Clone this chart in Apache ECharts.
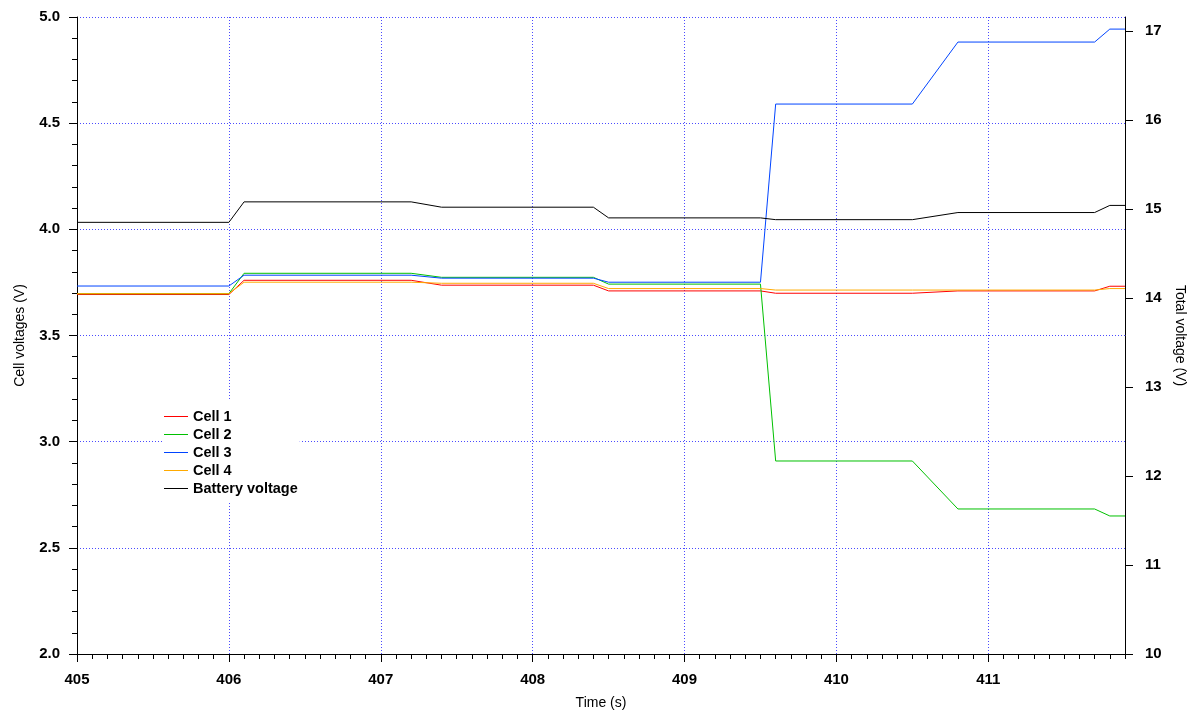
<!DOCTYPE html>
<html>
<head>
<meta charset="utf-8">
<script src="https://cdn.jsdelivr.net/npm/echarts@6/dist/echarts.min.js"></script>
<style>
    html, body { margin: 0; padding: 0; background: #fff; }
    #chart { width: 1194px; height: 711px; }
</style>
</head>
<body>
<div id="chart"></div>
<script>
// time stamps (s) where the readings change
const times = [405, 406, 406.1, 407.2, 407.4, 408.4, 408.5, 409.5, 409.6, 410.5, 410.8, 411.7, 411.8, 411.9];

const cell1 = [3.693, 3.693, 3.760, 3.760, 3.737, 3.737, 3.710, 3.710, 3.699, 3.699, 3.710, 3.710, 3.732, 3.732];
const cell2 = [3.697, 3.697, 3.793, 3.793, 3.774, 3.774, 3.742, 3.742, 2.909, 2.909, 2.683, 2.683, 2.650, 2.650];
const cell3 = [3.733, 3.733, 3.784, 3.784, 3.770, 3.770, 3.751, 3.751, 4.590, 4.590, 4.882, 4.882, 4.943, 4.943];
const cell4 = [3.697, 3.697, 3.751, 3.751, 3.746, 3.746, 3.721, 3.721, 3.714, 3.714, 3.714, 3.714, 3.721, 3.721];
const battery = [14.85, 14.85, 15.08, 15.08, 15.02, 15.02, 14.90, 14.90, 14.88, 14.88, 14.96, 14.96, 15.04, 15.04];

const xMajor = [405, 406, 407, 408, 409, 410, 411];
const rightTicks = [10, 11, 12, 13, 14, 15, 16, 17];

const font = 'Liberation Sans, Arial, Helvetica, sans-serif';

function pairs(vals) {
    return times.map(function (t, i) {
        return [t, vals[i]];
    });
}

function lineSeries(name, vals, color, yIdx) {
    return {
        name: name,
        type: 'line',
        xAxisIndex: 0,
        yAxisIndex: yIdx,
        data: pairs(vals),
        symbol: 'none',
        lineStyle: { color: color, width: 1 },
        itemStyle: { color: color }
    };
}

const chart = echarts.init(document.getElementById('chart'));
const gridLine = { show: true, lineStyle: { color: '#4b4bff', type: [1, 2], width: 1 } };
const tickFont = { fontFamily: font, fontSize: 15, fontWeight: 'bold', color: '#000' };

chart.setOption({
    animation: false,
    textStyle: { fontFamily: font },
    grid: { left: 77, right: 69, top: 17, bottom: 57, outerBoundsMode: 'none', containLabel: false },
    legend: {
        orient: 'vertical',
        left: 162,
        top: 400,
        padding: [9, 2, 5, 2],
        backgroundColor: '#fff',
        icon: 'rect',
        itemWidth: 24,
        itemHeight: 1,
        itemGap: 3,
        textStyle: { fontFamily: font, fontSize: 14.5, fontWeight: 'bold', color: '#000', height: 14, lineHeight: 14 },
        data: ['Cell 1', 'Cell 2', 'Cell 3', 'Cell 4', 'Battery voltage']
    },
    xAxis: [
        {
            type: 'value',
            min: 405,
            max: 411.9,
            interval: 1,
            name: 'Time (s)',
            nameLocation: 'middle',
            nameGap: 42,
            nameTextStyle: { fontFamily: font, fontSize: 14, color: '#000' },
            axisLine: { show: true, lineStyle: { color: '#000', width: 1 } },
            axisTick: { show: true, length: 8, customValues: xMajor, lineStyle: { color: '#000' } },
            axisLabel: Object.assign({ margin: 18, customValues: xMajor }, tickFont),
            splitLine: gridLine
        },
        {
            type: 'value',
            min: 405,
            max: 411.9,
            interval: 0.1,
            position: 'bottom',
            axisLine: { show: false },
            axisTick: { show: true, length: 5, lineStyle: { color: '#000' } },
            axisLabel: { show: false },
            splitLine: { show: false }
        }
    ],
    yAxis: [
        {
            type: 'value',
            min: 2,
            max: 5,
            interval: 0.5,
            name: 'Cell voltages (V)',
            nameLocation: 'middle',
            nameGap: 50,
            nameTextStyle: { fontFamily: font, fontSize: 14, color: '#000' },
            axisLine: { show: true, lineStyle: { color: '#000', width: 1 } },
            axisTick: { show: true, length: 8, lineStyle: { color: '#000' } },
            minorTick: { show: true, splitNumber: 5, length: 5, lineStyle: { color: '#000' } },
            axisLabel: Object.assign({
                margin: 17,
                formatter: function (v) { return v.toFixed(1); }
            }, tickFont),
            splitLine: gridLine
        },
        {
            type: 'value',
            min: 10,
            max: 17.157,
            interval: 1,
            position: 'right',
            name: 'Total voltage (V)',
            nameLocation: 'middle',
            nameGap: 45,
            nameRotate: -90,
            nameTextStyle: { fontFamily: font, fontSize: 14, color: '#000' },
            axisLine: { show: true, lineStyle: { color: '#000', width: 1 } },
            axisTick: { show: true, length: 8, customValues: rightTicks, lineStyle: { color: '#000' } },
            axisLabel: Object.assign({ margin: 20, customValues: rightTicks }, tickFont),
            splitLine: { show: false }
        }
    ],
    series: [
        lineSeries('Cell 1', cell1, '#ff0000', 0),
        lineSeries('Cell 2', cell2, '#00c000', 0),
        lineSeries('Cell 3', cell3, '#0044ff', 0),
        lineSeries('Cell 4', cell4, '#ffaa00', 0),
        lineSeries('Battery voltage', battery, '#000000', 1)
    ]
});
</script>
</body>
</html>
